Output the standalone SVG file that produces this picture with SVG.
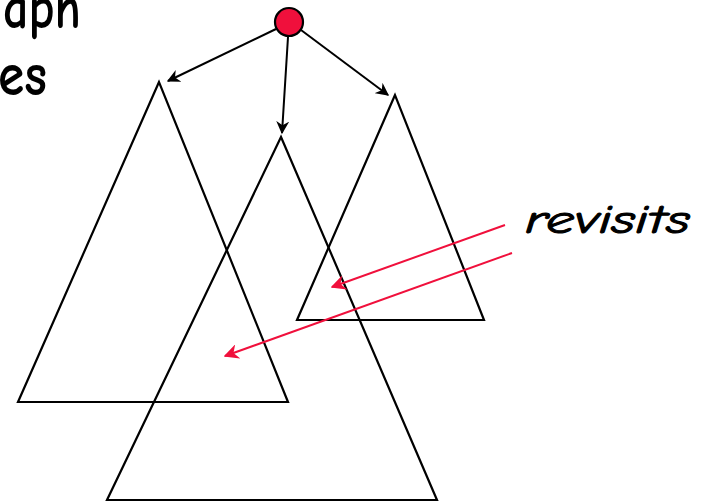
<svg xmlns="http://www.w3.org/2000/svg" width="705" height="504" viewBox="0 0 705 504">
<style>
.tri{fill:none;stroke:#000;stroke-width:2.2}
.bl{stroke:#000;stroke-width:2;fill:none}
.rd{stroke:#f0103c;stroke-width:2;fill:none}
.t{font-family:"Comic Sans MS","Comic Neue","DejaVu Sans",sans-serif;fill:#000}
</style>
<defs>
<marker id="ab" viewBox="0 0 10 10" refX="9" refY="5" markerWidth="13" markerHeight="13" markerUnits="userSpaceOnUse" orient="auto"><path d="M0,0 L10,5 L0,10 L3,5 z" fill="#000"/></marker>
<marker id="ar" viewBox="0 0 10 10" refX="9" refY="5" markerWidth="15" markerHeight="15" markerUnits="userSpaceOnUse" orient="auto"><path d="M0,0 L10,5 L0,10 L3,5 z" fill="#f0103c"/></marker>
</defs>
<g id="label-top">
<text class="t" x="3" y="28" font-size="60" font-weight="bold" textLength="78" lengthAdjust="spacingAndGlyphs">aph</text>
<text class="t" x="-2" y="95" font-size="60" font-weight="bold" textLength="49" lengthAdjust="spacingAndGlyphs">es</text>
</g>
<g id="tree-left"><polygon class="tri" points="159,82 18,402 288,402"/></g>
<g id="tree-middle"><polygon class="tri" points="281,137 107,500 437,500"/></g>
<g id="tree-right"><polygon class="tri" points="395,95 297,320 484,320"/></g>
<g id="connectors">
<line class="bl" x1="276" y1="29" x2="168" y2="81" marker-end="url(#ab)"/>
<line class="bl" x1="288" y1="37" x2="282" y2="133" marker-end="url(#ab)"/>
<line class="bl" x1="301" y1="30" x2="388" y2="95" marker-end="url(#ab)"/>
<line class="rd" x1="505" y1="225" x2="332" y2="287" marker-end="url(#ar)"/>
<line class="rd" x1="512" y1="253" x2="225" y2="356" marker-end="url(#ar)"/>
</g>
<g id="root"><circle cx="289" cy="22" r="14" fill="#f0103c" stroke="#000" stroke-width="2.2"/></g>
<g id="label-revisits">
<text class="t" x="525" y="233" font-size="40" font-style="italic" stroke="#000" stroke-width="1" textLength="165" lengthAdjust="spacingAndGlyphs">revisits</text>
</g>
</svg>
